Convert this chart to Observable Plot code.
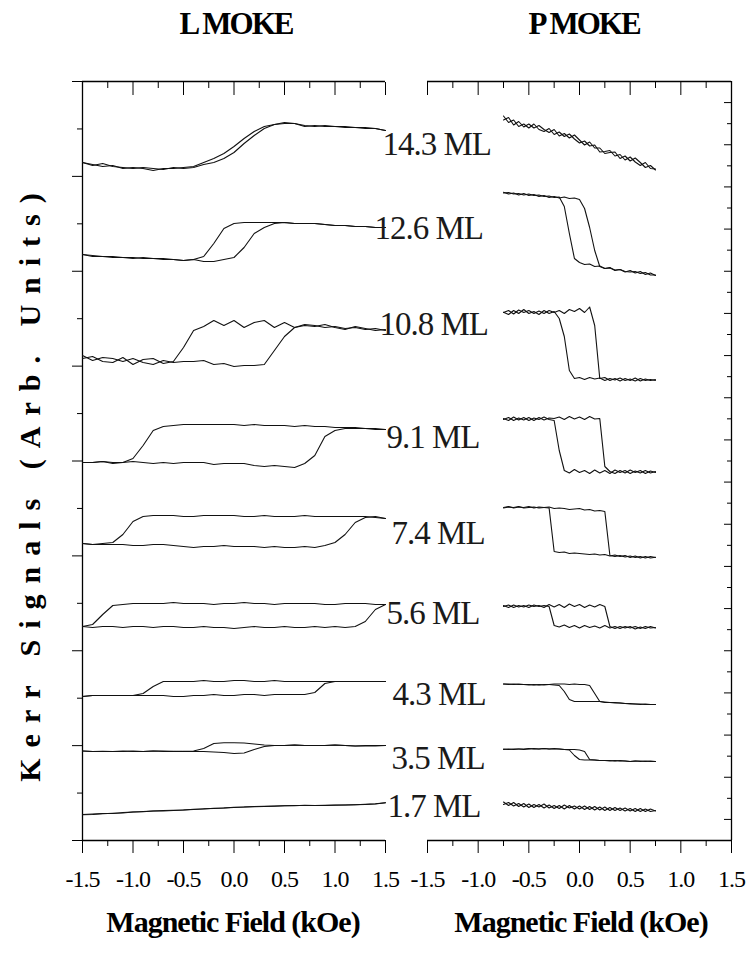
<!DOCTYPE html>
<html><head><meta charset="utf-8">
<script src="https://cdn.jsdelivr.net/npm/d3@7"></script>
<script src="https://cdn.jsdelivr.net/npm/@observablehq/plot@0.6"></script>
<style>
body{margin:0;background:#fff}
#chart{position:relative;width:749px;height:954px;background:#fff;font-family:"Liberation Serif","Times New Roman",serif;color:#000;overflow:hidden}
#chart svg{position:absolute;left:0;top:0}
#chart svg, #chart svg text{font-family:"Liberation Serif","Times New Roman",serif !important}
.t{position:absolute;white-space:nowrap;line-height:1}
</style></head><body>
<div id="chart"></div>
<script>
// ---------- text ----------
const panelTitles = ["L MOKE", "P MOKE"];
const yTitle = "Kerr Signals (Arb. Units)";
const xTitle = "Magnetic Field (kOe)";
const thickness = ["14.3 ML","12.6 ML","10.8 ML","9.1 ML","7.4 ML","5.6 ML","4.3 ML","3.5 ML","1.7 ML"];
const labelX = [1.47, 1.39, 1.44, 1.51, 1.56, 1.51, 1.57, 1.56, 1.52];
const labelY = [69.6, 61.25, 51.6, 40.3, 30.75, 22.7, 14.6, 8.25, 3.4];
const tickValues = [-1.5, -1.0, -0.5, 0.0, 0.5, 1.0, 1.5];
const minorTickValues = [-1.25, -0.75, -0.25, 0.25, 0.75, 1.25];
const tickLabels = ["-1.5","-1.0","-0.5","0.0","0.5","1.0","1.5"];
const signalTop = 75.9;

// ---------- field grids (kOe) ----------
const fieldL = [-1.5,-1.4,-1.3,-1.2,-1.1,-1.0,-0.9,-0.8,-0.7,-0.6,-0.5,-0.4,-0.3,-0.2,-0.1,0,0.1,0.2,0.3,0.4,0.5,0.6,0.7,0.8,0.9,1.0,1.1,1.2,1.3,1.4,1.5];
const fieldP = [-0.75,-0.7,-0.65,-0.6,-0.55,-0.5,-0.45,-0.4,-0.35,-0.3,-0.25,-0.2,-0.15,-0.1,-0.05,0,0.05,0.1,0.15,0.2,0.25,0.3,0.35,0.4,0.45,0.5,0.55,0.6,0.65,0.7,0.75];

// ---------- L MOKE loops (offset Kerr signal, arb. units) ----------
const L143up = [67.8,67.5,67.7,67.4,67.3,67.2,67.3,67.2,67.1,67.3,67.2,67.3,67.6,67.8,68.2,68.8,69.7,70.5,71.2,71.6,71.7,71.7,71.5,71.4,71.5,71.4,71.4,71.3,71.3,71.2,71.0];
const L143dn = [67.8,67.6,67.4,67.5,67.2,67.3,67.2,67.0,67.2,67.2,67.3,67.4,67.8,68.2,68.7,69.4,70.2,70.9,71.4,71.6,71.8,71.7,71.4,71.5,71.4,71.4,71.3,71.3,71.2,71.2,71.0];
const L126up = [58.6,58.4,58.4,58.3,58.3,58.3,58.2,58.2,58.2,58.1,58.0,58.1,57.9,57.9,58.1,58.3,59.3,60.7,61.3,61.7,61.8,61.7,61.7,61.7,61.6,61.5,61.5,61.4,61.4,61.3,61.3];
const L126dn = [58.6,58.5,58.4,58.4,58.3,58.2,58.3,58.2,58.1,58.1,58.0,58.1,58.4,59.7,61.2,61.7,61.8,61.8,61.8,61.8,61.8,61.7,61.7,61.7,61.6,61.5,61.5,61.4,61.4,61.3,61.3];
const L108up = [48.5,48.0,48.3,48.2,47.9,48.2,47.8,47.6,48.0,47.8,47.9,47.9,48.0,47.6,47.7,47.4,47.5,47.5,47.6,49.0,50.4,51.3,51.6,51.5,51.3,51.4,51.2,51.3,51.1,51.2,51.0];
const L108dn = [48.2,48.4,47.9,47.8,48.3,47.6,48.1,48.2,47.7,47.9,49.3,51.0,51.4,52.0,51.5,52.0,51.3,51.8,52.0,51.3,51.8,51.3,51.5,51.4,51.6,51.3,51.1,51.4,51.2,51.0,51.1];
const L91up = [37.8,37.8,37.9,37.8,37.8,37.9,37.8,37.7,37.8,37.7,37.8,37.8,37.8,37.6,37.7,37.7,37.7,37.5,37.4,37.5,37.4,37.3,37.7,38.5,40.4,41.0,41.2,41.2,41.2,41.1,41.1];
const L91dn = [37.8,37.8,37.9,37.7,37.8,38.2,39.5,41.0,41.4,41.5,41.6,41.6,41.6,41.6,41.6,41.6,41.5,41.6,41.5,41.5,41.5,41.4,41.5,41.4,41.4,41.3,41.3,41.3,41.2,41.2,41.1];
const L74up = [29.7,29.6,29.6,29.6,29.6,29.5,29.5,29.6,29.6,29.5,29.4,29.3,29.4,29.4,29.5,29.4,29.4,29.4,29.3,29.4,29.3,29.3,29.4,29.3,29.5,29.8,30.6,31.8,32.3,32.4,32.2];
const L74dn = [29.7,29.6,29.7,29.8,30.6,31.9,32.4,32.5,32.5,32.5,32.4,32.4,32.5,32.5,32.5,32.5,32.4,32.4,32.5,32.4,32.4,32.4,32.5,32.4,32.4,32.4,32.4,32.4,32.4,32.3,32.2];
const L56up = [21.4,21.3,21.4,21.4,21.3,21.4,21.4,21.3,21.4,21.4,21.3,21.3,21.4,21.3,21.3,21.2,21.3,21.4,21.3,21.3,21.4,21.3,21.3,21.4,21.3,21.4,21.3,21.4,21.9,23.1,23.6];
const L56dn = [21.4,21.6,22.6,23.5,23.6,23.7,23.7,23.7,23.7,23.8,23.7,23.7,23.7,23.6,23.7,23.7,23.8,23.7,23.7,23.6,23.7,23.7,23.7,23.7,23.6,23.6,23.7,23.7,23.7,23.6,23.6];
const L43up = [14.4,14.5,14.5,14.5,14.5,14.5,14.5,14.5,14.5,14.4,14.4,14.5,14.5,14.6,14.5,14.5,14.6,14.6,14.5,14.6,14.6,14.6,14.6,14.8,15.7,15.9,15.9,15.9,15.9,15.9,15.9];
const L43dn = [14.4,14.5,14.5,14.5,14.5,14.5,14.7,15.4,15.9,15.9,15.9,15.9,16.0,15.9,15.9,16.0,16.0,15.9,15.9,16.0,15.9,15.9,15.9,15.9,15.9,15.9,15.9,15.9,15.9,15.9,15.9];
const L35up = [8.95,8.9,8.9,8.9,8.95,8.9,8.9,8.95,8.9,8.93,8.9,8.9,8.9,8.85,8.8,8.7,8.75,9.1,9.4,9.5,9.5,9.55,9.5,9.5,9.5,9.55,9.5,9.45,9.45,9.45,9.5];
const L35dn = [8.95,8.9,8.93,8.9,8.9,8.95,8.9,8.95,8.95,8.9,8.93,8.95,9.2,9.7,9.77,9.77,9.75,9.65,9.55,9.5,9.5,9.55,9.5,9.5,9.5,9.55,9.5,9.45,9.5,9.5,9.5];
const L17up = [2.57,2.6,2.67,2.73,2.75,2.85,2.9,2.95,2.95,3.0,3.05,3.1,3.17,3.2,3.25,3.3,3.35,3.37,3.4,3.43,3.47,3.5,3.5,3.5,3.5,3.53,3.55,3.57,3.6,3.65,3.77];
const L17dn = [2.6,2.65,2.7,2.7,2.8,2.85,2.88,2.95,3.0,3.02,3.05,3.12,3.15,3.22,3.25,3.33,3.35,3.4,3.42,3.45,3.47,3.48,3.52,3.5,3.52,3.55,3.55,3.58,3.62,3.67,3.77];

// ---------- P MOKE loops ----------
const P143up = [72.45,71.8,72.05,71.4,71.65,71.25,71.65,71.1,70.9,71.2,70.6,70.85,70.4,70.65,70.15,69.75,69.95,69.45,69.55,68.85,68.9,69.0,68.45,68.6,68.05,68.35,67.85,67.5,67.8,67.2,67.15];
const P143dn = [72.05,72.3,71.55,71.9,71.35,71.65,71.25,71.5,71.1,70.8,71.1,70.45,70.7,70.25,70.55,70.05,69.55,69.85,69.25,69.25,68.7,68.8,68.85,68.2,68.45,67.95,68.25,67.8,67.3,67.5,67.05];
const P126up = [64.83,64.65,64.75,64.55,64.7,64.5,64.6,64.4,64.5,64.3,64.4,64.25,64.35,64.2,64.25,64.1,63.2,61.3,59.0,57.4,57.2,57.3,57.0,57.1,56.85,57.0,56.75,56.9,56.6,56.75,56.5];
const P126dn = [64.75,64.8,64.65,64.7,64.55,64.65,64.5,64.55,64.4,64.45,64.3,64.35,63.4,60.7,58.2,57.8,57.6,57.65,57.4,57.45,57.2,57.25,57.05,57.1,56.9,56.85,56.9,56.7,56.8,56.55,56.55];
const P108up = [52.8,53.0,52.65,53.05,52.8,53.0,52.7,52.95,52.7,53.0,52.8,53.0,52.7,53.1,52.9,53.2,52.8,53.35,51.5,46.2,46.3,46.0,46.2,45.95,46.2,46.0,46.25,45.95,46.15,46.0,46.1];
const P108dn = [52.83,52.6,53.0,52.7,53.1,52.7,52.9,52.6,53.0,52.7,52.9,52.2,50.4,47.0,46.2,46.3,46.1,46.3,46.15,46.25,46.0,46.2,46.05,46.25,46.0,46.15,45.95,46.2,46.0,46.1,46.0];
const P91up = [42.1,42.3,42.0,42.25,42.05,42.3,42.0,42.3,42.05,42.25,42.2,42.35,42.1,42.4,42.15,42.35,42.1,42.4,42.15,42.2,37.4,36.9,36.7,37.0,36.75,37.05,36.8,37.0,36.7,36.95,36.8];
const P91dn = [42.2,42.0,42.35,42.05,42.3,42.0,42.25,42.1,42.35,42.1,42.0,39.0,37.0,36.75,37.1,36.8,37.0,36.7,37.05,36.75,37.0,36.7,37.05,36.8,37.0,36.7,36.95,36.75,37.0,36.75,36.9];
const P74up = [33.25,33.35,33.3,33.4,33.25,33.3,33.35,33.25,33.3,33.35,33.2,33.25,33.2,33.1,33.15,33.2,33.05,33.1,32.95,33.0,32.9,28.5,28.4,28.5,28.35,28.45,28.3,28.4,28.25,28.4,28.3];
const P74dn = [33.3,33.4,33.25,33.35,33.3,33.4,33.25,33.35,33.3,33.25,28.9,28.8,28.85,28.7,28.75,28.7,28.65,28.6,28.65,28.55,28.6,28.45,28.55,28.4,28.5,28.3,28.45,28.25,28.4,28.25,28.33];
const P56up = [23.4,23.55,23.3,23.5,23.35,23.55,23.4,23.5,23.3,23.6,23.35,23.6,23.3,23.65,23.4,23.6,23.3,23.55,23.35,23.6,23.4,21.4,21.2,21.4,21.25,21.4,21.15,21.35,21.2,21.4,21.25];
const P56dn = [23.5,23.3,23.55,23.35,23.5,23.3,23.55,23.4,23.5,23.4,21.5,21.35,21.55,21.3,21.5,21.25,21.5,21.3,21.45,21.25,21.5,21.25,21.4,21.2,21.4,21.25,21.4,21.2,21.4,21.25,21.3];
const P43up = [15.65,15.65,15.6,15.65,15.6,15.6,15.55,15.6,15.55,15.6,15.65,15.65,15.65,15.6,15.65,15.6,15.6,15.5,14.7,13.9,13.8,13.8,13.75,13.75,13.7,13.65,13.65,13.6,13.65,13.6,13.6];
const P43dn = [15.65,15.6,15.65,15.6,15.6,15.55,15.6,15.55,15.6,15.6,15.55,15.5,14.9,14.1,13.9,13.9,13.9,13.9,13.9,13.9,13.85,13.8,13.8,13.75,13.7,13.7,13.65,13.65,13.6,13.6,13.6];
const P35up = [9.1,9.15,9.1,9.15,9.15,9.2,9.15,9.15,9.2,9.15,9.2,9.15,9.1,9.1,9.1,9.05,8.9,8.1,8.05,8.0,8.0,7.95,8.0,7.95,7.95,7.9,7.95,7.9,7.95,7.9,7.9];
const P35dn = [9.15,9.1,9.15,9.15,9.1,9.15,9.2,9.15,9.2,9.15,9.15,9.15,9.1,9.05,8.5,8.1,8.05,8.05,8.05,8.0,8.0,8.0,7.95,8.0,7.95,7.9,7.95,7.95,7.9,7.95,7.9];
const P17up = [3.85,3.5,3.8,3.4,3.7,3.3,3.6,3.35,3.65,3.25,3.5,3.2,3.55,3.25,3.45,3.15,3.45,3.1,3.4,3.05,3.35,3.0,3.3,3.0,3.25,2.95,3.2,2.9,3.15,2.9,3.0];
const P17dn = [3.6,3.8,3.45,3.7,3.35,3.65,3.3,3.6,3.25,3.55,3.2,3.5,3.15,3.5,3.15,3.45,3.1,3.4,3.05,3.35,3.0,3.3,3.0,3.25,2.95,3.2,2.9,3.2,2.9,3.15,2.95];

// ---------- assemble ----------
const lBranches = [L143up,L143dn,L126up,L126dn,L108up,L108dn,L91up,L91dn,L74up,L74dn,L56up,L56dn,L43up,L43dn,L35up,L35dn,L17up,L17dn];
const pBranches = [P143up,P143dn,P126up,P126dn,P108up,P108dn,P91up,P91dn,P74up,P74dn,P56up,P56dn,P43up,P43dn,P35up,P35dn,P17up,P17dn];
const toRows = (field, branches) => branches.flatMap((b, k) => field.map((h, i) => ({h, s: b[i], k})));
const rowsL = toRows(fieldL, lBranches);
const rowsP = toRows(fieldP, pBranches);

const yMajorL = d3.range(9).map(k => k * signalTop / 8);
const yMinorL = d3.range(8).map(k => (k + 0.5) * signalTop / 8);
const yMajorR = d3.range(18).map(k => (2 * k + 1) * signalTop / 36);
const yMinorR = d3.range(19).map(k => (2 * k) * signalTop / 36);

const serif = "'Liberation Serif','Times New Roman',serif";
const fmt = d => tickLabels[tickValues.indexOf(d)] ?? "";
const common = {
  width: 749, height: 954, marginTop: 81, marginBottom: 114,
  x: {domain: [-1.5, 1.5]},
  y: {domain: [0, signalTop]},
  style: {background: "transparent", fontFamily: serif, fontSize: "24px", color: "#000", letterSpacing: "-1px"}
};
const xAxes = [
  Plot.axisX({anchor: "bottom", ticks: tickValues, tickSize: 13, tickPadding: 16, tickFormat: fmt, label: null, stroke: "#000", fontFamily: serif}),
  Plot.axisX({anchor: "bottom", ticks: minorTickValues, tickSize: 6, tickFormat: () => "", label: null, stroke: "#000"}),
  Plot.axisX({anchor: "top", ticks: tickValues, tickSize: -13, tickFormat: () => "", label: null, stroke: "#000"}),
  Plot.axisX({anchor: "top", ticks: minorTickValues, tickSize: -6, tickFormat: () => "", label: null, stroke: "#000"})
];

const left = Plot.plot({
  ...common, marginLeft: 82, marginRight: 364,
  marks: [
    Plot.ruleY([0, signalTop], {stroke: "#000", strokeWidth: 1.3}),
    Plot.ruleX([-1.5], {stroke: "#000", strokeWidth: 1.3}),
    ...xAxes,
    Plot.axisY({anchor: "left", ticks: yMajorL, tickSize: 10, tickFormat: () => "", label: null}),
    Plot.axisY({anchor: "left", ticks: yMinorL, tickSize: 5, tickFormat: () => "", label: null}),
    Plot.line(rowsL, {x: "h", y: "s", z: "k", stroke: "#111", strokeWidth: 1.1}),
    Plot.text(thickness, {x: (d, i) => labelX[i], y: (d, i) => labelY[i], text: d => d, textAnchor: "start", fontSize: 33, fontFamily: serif, fill: "#1a1a1a"})
  ]
});

const right = Plot.plot({
  ...common, marginLeft: 427, marginRight: 18,
  marks: [
    Plot.ruleY([0, signalTop], {stroke: "#000", strokeWidth: 1.3}),
    Plot.ruleX([1.5], {stroke: "#000", strokeWidth: 1.3}),
    ...xAxes,
    Plot.axisY({anchor: "right", ticks: yMajorR, tickSize: -8, tickFormat: () => "", label: null}),
    Plot.axisY({anchor: "right", ticks: yMinorR, tickSize: -5, tickFormat: () => "", label: null}),
    Plot.line(rowsP, {x: "h", y: "s", z: "k", stroke: "#111", strokeWidth: 1.1})
  ]
});

const chart = document.getElementById("chart");
chart.append(left, right);

function addText(txt, css) {
  const d = document.createElement("div");
  d.className = "t";
  d.textContent = txt;
  d.setAttribute("style", css);
  chart.append(d);
}
addText(panelTitles[0], "left:236px;top:8px;transform:translateX(-50%);font-weight:bold;font-size:31px;letter-spacing:-2px");
addText(panelTitles[1], "left:584px;top:8px;transform:translateX(-50%);font-weight:bold;font-size:31px;letter-spacing:-2px");
addText(yTitle, "left:30px;top:482px;transform:translate(-50%,-50%) rotate(-90deg);font-weight:bold;font-size:30px;letter-spacing:11px");
addText(xTitle, "left:233px;top:907px;transform:translateX(-50%);font-weight:bold;font-size:30px;letter-spacing:-1px");
addText(xTitle, "left:581px;top:907px;transform:translateX(-50%);font-weight:bold;font-size:30px;letter-spacing:-1px");
</script>
</body></html>
